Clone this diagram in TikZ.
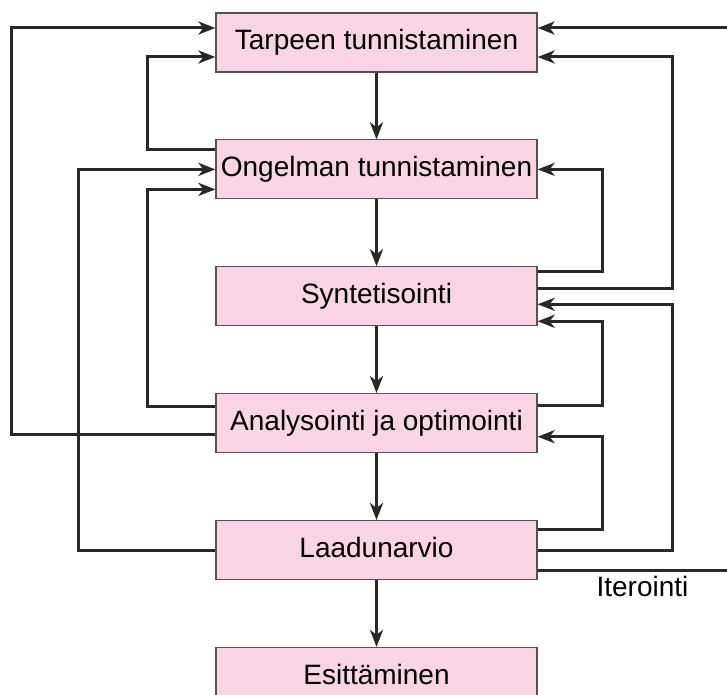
\documentclass[tikz,border=0pt]{standalone}
\usepackage{fontspec}
\setmainfont{Liberation Sans}
\usetikzlibrary{arrows.meta, positioning}

\definecolor{boxpink}{RGB}{248,212,228}
\definecolor{linegray}{RGB}{40,40,40}

\begin{document}
\begin{tikzpicture}[x=1pt, y=1pt, node distance=66.7pt,
  >={Stealth[length=17pt,width=13pt,inset=5pt]},
  stage/.style={draw=linegray!80, line width=1.2pt, rectangle, fill=boxpink, minimum width=321pt, minimum height=59pt, inner sep=0pt, font=\fontsize{28}{33}\selectfont, text height=20pt, text depth=6pt},
  lbl/.style={inner sep=0pt, font=\fontsize{28}{33}\selectfont, text height=20pt, text depth=6pt},
  flow/.style={->, line width=3pt, draw=linegray}]
\useasboundingbox (0,0) rectangle (727,694);
\clip (0,0) rectangle (727,694);

% Design stages
\node[stage] (tarp) at (376.5,651.5) {Tarpeen tunnistaminen};
\node[stage, below=of tarp] (ong) {Ongelman tunnistaminen};
\node[stage, below=of ong] (syn) {Syntetisointi};
\node[stage, below=of syn] (ana) {Analysointi ja optimointi};
\node[stage, below=of ana] (lad) {Laadunarvio};
\node[stage, below=of lad] (esit) {Esittäminen};

% Main flow
\draw[flow] (tarp) -- (ong);
\draw[flow] (ong) -- (syn);
\draw[flow] (syn) -- (ana);
\draw[flow] (ana) -- (lad);
\draw[flow] (lad) -- (esit);

% Feedback on the left
\draw[flow] ([yshift=-11.5pt]ana.west) -- ++(-204,0) |- ([yshift=14.5pt]tarp.west);
\draw[flow] ([yshift=19.5pt]ong.west) -- ++(-68,0) |- ([yshift=-14.5pt]tarp.west);
\draw[flow] (lad.west) -- ++(-137,0) |- (ong.west);
\draw[flow] ([yshift=16.5pt]ana.west) -- ++(-68,0) |- ([yshift=-20pt]ong.west);

% Feedback on the right
\draw[flow] ([yshift=8pt]syn.east) -- ++(135,0) |- ([yshift=-14.5pt]tarp.east);
\draw[flow] ([yshift=25pt]syn.east) -- ++(65,0) |- (ong.east);
\draw[flow] (lad.east) -- ++(135,0) |- ([yshift=-8pt]syn.east);
\draw[flow] ([yshift=17.5pt]ana.east) -- ++(65,0) |- ([yshift=-25pt]syn.east);
\draw[flow] ([yshift=20.5pt]lad.east) -- ++(65,0) |- ([yshift=-13.5pt]ana.east);
\draw[flow] ([yshift=-20.5pt]lad.east) -- ++(220,0) |- ([yshift=14.5pt]tarp.east);

\node[lbl] (iter) at (642.5,104.3) {Iterointi};
\end{tikzpicture}
\end{document}
